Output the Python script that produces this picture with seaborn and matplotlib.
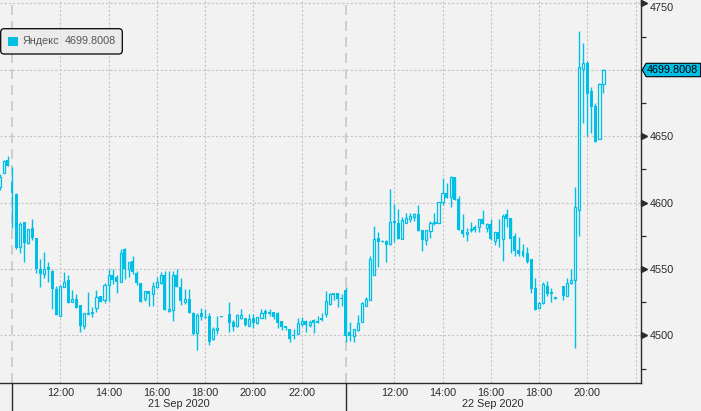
import numpy as np
import pandas as pd
import matplotlib
matplotlib.use("Agg")
import matplotlib.pyplot as plt
import matplotlib.transforms as mtransforms
from matplotlib.patches import FancyBboxPatch, Rectangle, Polygon
import seaborn as sns


# ==========================================================
# DATA  (10-minute bars, Yandex on MOEX)
# ==========================================================

ticker = "Яндекс"
last_price = 4699.8008

# 21 Sep 2020 (first three bars are the tail before the 10:00 open)
day1_open = [4611.9, 4622.5, 4632.0, 4615.7, 4606.4, 4566.7, 4585.3, 4569.3, 4580.8, 4573.3,
             4549.9, 4546.4, 4551.4, 4548.4, 4535.1, 4514.8, 4536.6, 4541.7, 4525.3, 4527.3,
             4522.8, 4507.3, 4516.3, 4517.6, 4520.3, 4529.6, 4526.3, 4537.6, 4545.4, 4543.7,
             4540.4, 4564.7, 4549.7, 4556.0, 4546.7, 4539.4, 4527.6, 4533.1, 4531.1, 4536.1,
             4539.1, 4545.4, 4518.6, 4518.8, 4545.4, 4536.4, 4525.3, 4527.3, 4516.8, 4502.0,
             4516.6, 4513.8, 4514.5, 4497.0, 4504.3, 4514.5, np.nan, 4516.0, 4510.2, 4507.2,
             4512.7, 4512.7, 4507.2, 4512.7, 4509.5, 4513.2, 4518.3, 4517.8, 4517.8, 4516.8,
             4510.7, 4507.0, 4504.7, 4500.0, 4501.2, 4508.7, 4511.0, 4508.0, 4511.7, 4511.0,
             4513.0, 4516.3, 4523.8, 4531.8, 4531.8, 4528.1]
day1_high = [4621.5, 4632.0, 4635.0, 4627.0, 4606.9, 4585.3, 4585.3, 4580.1, 4587.6, 4573.3,
             4557.5, 4562.7, 4555.2, 4549.2, 4537.1, 4536.9, 4547.7, 4545.2, 4534.1, 4531.1,
             4522.8, 4516.8, 4532.6, 4521.3, 4534.1, 4529.6, 4539.1, 4549.7, 4549.7, 4545.2,
             4565.0, 4565.5, 4555.2, 4559.7, 4548.7, 4539.4, 4533.1, 4533.1, 4540.4, 4544.2,
             4547.9, 4548.4, 4548.4, 4548.7, 4549.9, 4543.2, 4534.9, 4534.9, 4517.8, 4516.8,
             4520.6, 4519.8, 4516.6, 4506.3, 4514.5, 4514.8, np.nan, 4525.1, 4511.5, 4515.8,
             4519.8, 4513.2, 4516.0, 4515.8, 4513.7, 4519.8, 4519.8, 4519.5, 4517.8, 4517.5,
             4510.7, 4507.0, 4504.7, 4505.0, 4513.0, 4514.0, 4511.5, 4511.2, 4512.2, 4514.5,
             4516.5, 4533.3, 4532.1, 4531.8, 4531.8, 4530.8]
day1_low = [4609.4, 4622.0, 4627.7, 4581.1, 4565.0, 4561.7, 4555.5, 4568.5, 4571.8, 4546.7,
            4536.6, 4542.9, 4540.4, 4519.8, 4515.6, 4514.8, 4536.6, 4524.6, 4525.3, 4520.8,
            4502.7, 4504.5, 4515.8, 4513.5, 4517.8, 4525.3, 4524.3, 4525.8, 4538.4, 4532.1,
            4540.4, 4542.7, 4544.2, 4546.2, 4537.6, 4524.8, 4526.1, 4522.3, 4522.3, 4535.6,
            4538.6, 4518.8, 4517.8, 4510.5, 4536.6, 4522.8, 4523.6, 4516.6, 4500.2, 4488.9,
            4511.3, 4512.8, 4492.7, 4496.5, 4501.0, 4513.8, np.nan, 4502.7, 4503.5, 4506.2,
            4512.2, 4507.0, 4506.7, 4505.2, 4508.5, 4512.7, 4512.2, 4514.8, 4512.2, 4505.7,
            4504.0, 4504.0, 4495.2, 4496.9, 4500.7, 4507.0, 4502.7, 4506.0, 4502.0, 4509.5,
            4511.0, 4513.8, 4522.5, 4526.3, 4521.3, 4522.0]
day1_close = [4619.0, 4631.3, 4627.7, 4607.4, 4565.5, 4583.6, 4569.8, 4580.1, 4573.0, 4549.7,
              4546.2, 4549.9, 4549.4, 4535.1, 4515.6, 4536.9, 4539.9, 4524.6, 4527.3, 4520.8,
              4507.0, 4516.8, 4517.1, 4516.3, 4528.9, 4525.3, 4537.9, 4545.4, 4541.9, 4540.4,
              4562.0, 4549.7, 4555.2, 4547.9, 4539.1, 4524.8, 4533.1, 4531.1, 4537.4, 4539.9,
              4545.4, 4518.8, 4519.8, 4545.4, 4536.6, 4525.6, 4527.3, 4517.1, 4501.2, 4515.3,
              4514.0, 4513.3, 4495.2, 4504.8, 4505.5, 4514.0, np.nan, 4509.5, 4506.0, 4515.3,
              4515.3, 4508.0, 4512.2, 4509.5, 4513.7, 4516.8, 4516.3, 4516.3, 4514.0, 4509.5,
              4506.2, 4505.2, 4497.4, 4499.7, 4509.2, 4510.7, 4508.0, 4510.2, 4509.5, 4509.5,
              4511.5, 4525.8, 4531.3, 4530.6, 4527.6, 4527.6]

# 22 Sep 2020 (from 10:00)
day2_open = [4534.1, 4502.7, 4499.7, 4504.2, 4510.2, 4522.3, 4526.8, 4545.4, 4573.0, 4571.0,
             4571.3, 4568.7, 4586.1, 4584.3, 4572.5, 4584.8, 4587.8, 4589.3, 4591.3, 4579.3,
             4571.8, 4578.8, 4584.8, 4584.8, 4600.1, 4607.4, 4604.4, 4618.9, 4602.4, 4579.3,
             4576.3, 4579.3, 4581.3, 4581.8, 4587.3, 4581.0, 4583.6, 4571.3, 4578.0, 4572.5,
             4591.3, 4588.1, 4574.8, 4564.2, 4563.7, 4562.2, 4557.4, 4535.6, 4520.8, 4524.0,
             4537.1, 4532.3, 4528.1, np.nan, 4537.1, 4529.8, 4539.1, 4541.6, 4594.3, 4700.3,
             4705.3, 4684.2, 4672.7, 4647.6, 4689.0]
day2_high = [4536.3, 4510.2, 4504.7, 4515.3, 4525.3, 4529.1, 4559.9, 4582.3, 4578.0, 4571.5,
             4571.8, 4609.9, 4598.9, 4594.9, 4588.8, 4591.8, 4592.3, 4592.3, 4598.1, 4579.3,
             4579.3, 4586.1, 4592.3, 4600.6, 4618.7, 4614.9, 4620.0, 4618.9, 4604.9, 4591.3,
             4581.0, 4585.0, 4582.8, 4587.3, 4594.3, 4584.3, 4587.3, 4578.0, 4587.3, 4591.3,
             4594.8, 4588.1, 4576.8, 4574.3, 4568.5, 4566.2, 4557.4, 4543.1, 4525.3, 4539.9,
             4541.1, 4535.3, 4529.1, np.nan, 4537.1, 4543.4, 4549.9, 4611.9, 4729.4, 4719.9,
             4706.6, 4687.2, 4674.7, 4690.3, 4700.3]
day2_low = [4495.2, 4495.9, 4494.9, 4503.5, 4510.2, 4522.3, 4526.8, 4545.4, 4551.7, 4570.0,
            4555.4, 4568.0, 4570.5, 4572.5, 4572.5, 4584.3, 4585.6, 4586.1, 4578.8, 4563.7,
            4568.0, 4573.0, 4583.1, 4584.8, 4598.1, 4603.1, 4596.9, 4601.9, 4579.3, 4573.8,
            4571.3, 4578.0, 4577.8, 4578.0, 4583.6, 4578.0, 4571.8, 4568.0, 4566.7, 4555.9,
            4581.3, 4562.2, 4560.0, 4560.0, 4559.2, 4554.2, 4532.1, 4519.3, 4520.3, 4523.3,
            4529.8, 4525.3, 4527.6, np.nan, 4526.5, 4529.8, 4538.6, 4490.2, 4574.7, 4660.1,
            4650.1, 4652.1, 4645.8, 4647.6, 4682.2]
day2_close = [4499.4, 4499.4, 4504.7, 4509.2, 4524.3, 4527.1, 4557.4, 4572.5, 4570.5, 4570.5,
              4568.0, 4585.1, 4584.8, 4572.5, 4586.8, 4588.1, 4589.8, 4591.3, 4578.8, 4571.8,
              4579.3, 4584.3, 4585.1, 4600.1, 4606.9, 4603.1, 4618.9, 4601.9, 4579.3, 4576.3,
              4578.0, 4580.0, 4579.3, 4587.3, 4583.6, 4583.6, 4572.5, 4578.0, 4572.5, 4589.8,
              4587.5, 4572.5, 4563.7, 4561.2, 4560.0, 4555.4, 4535.1, 4519.3, 4524.0, 4538.6,
              4531.1, 4531.1, 4528.6, np.nan, 4529.8, 4539.1, 4541.6, 4596.4, 4702.3, 4705.3,
              4681.7, 4672.2, 4645.8, 4689.3, 4699.8008]

hour_labels = ["12:00", "14:00", "16:00", "18:00", "20:00", "22:00"]
date_labels = ["21 Sep 2020", "22 Sep 2020"]
price_ticks = [4500, 4550, 4600, 4650, 4700, 4750]

# bar slots: slot 0 = 21 Sep 10:00, slot 83 = 22 Sep 10:00, 6 slots per hour
DAY1_FIRST = -3
DAY2_FIRST = 83
SLOTS_PER_HOUR = 6


# ==========================================================
# STYLE
# ==========================================================

CYAN = "#00bfe6"
BG = "#f2f2f2"
GRID = "#c3c3c3"
DARK = "#2b2b2b"
FS = 7.8

sns.set_style("white", rc={"axes.facecolor": BG, "figure.facecolor": BG})
plt.rcParams["font.family"] = ["Liberation Sans", "DejaVu Sans"]

df = pd.concat([
    pd.DataFrame({"slot": np.arange(DAY1_FIRST, DAY1_FIRST + len(day1_open)),
                  "open": day1_open, "high": day1_high, "low": day1_low, "close": day1_close}),
    pd.DataFrame({"slot": np.arange(DAY2_FIRST, DAY2_FIRST + len(day2_open)),
                  "open": day2_open, "high": day2_high, "low": day2_low, "close": day2_close}),
]).dropna()

df["up"] = df["close"] >= df["open"]
df["body_lo"] = df[["open", "close"]].min(axis=1)
df["body_h"] = (df["close"] - df["open"]).abs().clip(lower=0.6)

fig = plt.figure(figsize=(7.01, 4.11), dpi=100)
ax = fig.add_axes([0, 27.7 / 411, 640.5 / 701, 383.3 / 411])


# ==========================================================
# CANDLES
# ==========================================================

# wicks
ax.vlines(df["slot"], df["low"], df["high"], color=CYAN, lw=1.0, zorder=2)

# down bars filled, up bars hollow
dn = df[~df["up"]]
up = df[df["up"]]
ax.bar(dn["slot"], dn["body_h"], bottom=dn["body_lo"], width=0.74,
       color=CYAN, linewidth=0, zorder=3)
ax.bar(up["slot"], up["body_h"], bottom=up["body_lo"], width=0.52,
       facecolor=BG, edgecolor=CYAN, linewidth=0.9, zorder=3)

ax.set_xlim(-2.98, 156.2)
ax.set_ylim(4463.9, 4752.5)


# ==========================================================
# AXES
# ==========================================================

# x axis: labels every 2 hours, small ticks on odd hours
even_hours = [SLOTS_PER_HOUR * h for h in (2, 4, 6, 8, 10, 12)]
major_x = even_hours + [DAY2_FIRST + s for s in even_hours]
ax.set_xticks(major_x)
ax.set_xticklabels(hour_labels + hour_labels[:-1] + [""])
odd_hours = [SLOTS_PER_HOUR * h for h in (1, 3, 5, 7, 9, 11, 13)]
minor_x = odd_hours + [DAY2_FIRST + s for s in odd_hours[:-1]] + [DAY2_FIRST + 71.95]
ax.set_xticks(minor_x, minor=True)
ax.tick_params(axis="x", which="major", length=0, pad=3.2, labelsize=FS, labelcolor=DARK)
ax.tick_params(axis="x", which="minor", length=3, width=0.9, color=DARK)

# y axis on the right; 4700 sits under the price tag, 4750 is nudged down
ax.yaxis.tick_right()
ax.set_yticks(price_ticks)
ax.set_yticklabels([str(p) if p not in (4700, 4750) else "" for p in price_ticks])
ax.set_yticks(np.arange(4475, 4751, 50), minor=True)
ax.tick_params(axis="y", which="major", length=0, pad=7, labelsize=FS, labelcolor=DARK)
ax.tick_params(axis="y", which="minor", length=3.5, width=0.9, color=DARK)

ax.grid(True, which="major", color=GRID, lw=0.8, linestyle=(0, (1.9, 1.9)))

for side in ("left", "top"):
    ax.spines[side].set_visible(False)
for side in ("right", "bottom"):
    ax.spines[side].set_color(DARK)
    ax.spines[side].set_linewidth(1.0)

blend_x = mtransforms.blended_transform_factory(ax.transData, ax.transAxes)
blend_y = mtransforms.blended_transform_factory(ax.transAxes, ax.transData)

# triangle markers at the visible price ticks
tri = [p for p in price_ticks if p != 4700]
ax.plot(np.full(len(tri), 1.0062), tri, ls="none", marker=">", ms=5, color=DARK,
        transform=blend_y, clip_on=False, zorder=5)
ax.text(1.0148, 4750, "4750", transform=blend_y, ha="left", va="top",
        fontsize=FS, color=DARK, clip_on=False)

# day separators
for s in (0, DAY2_FIRST):
    ax.axvline(s, color="#c6c6c6", lw=1.2, linestyle=(0, (6, 3.6)), zorder=1)
    ax.plot([s, s], [0, -0.08], color=DARK, lw=1.0, transform=blend_x, clip_on=False)

# date labels centred under each session
for mid, lab in zip([(0 + DAY2_FIRST) / 2, (DAY2_FIRST + DAY2_FIRST + 73) / 2], date_labels):
    ax.text(mid, -0.0548, lab, transform=blend_x, ha="center", va="center",
            fontsize=FS, color=DARK, clip_on=False)

# last price tag
half = 5.05
tag = Polygon([(1.0028, last_price), (1.0088, last_price + half), (1.094, last_price + half),
               (1.094, last_price - half), (1.0088, last_price - half)],
              closed=True, facecolor=CYAN, edgecolor="black", lw=0.8,
              transform=blend_y, clip_on=False, zorder=6)
ax.add_patch(tag)
ax.text(1.0505, last_price, f"{last_price:.4f}", transform=blend_y, ha="center",
        va="center", fontsize=FS, color="black", clip_on=False, zorder=7)

# legend box (pixel coordinates, origin bottom-left)
pix = mtransforms.IdentityTransform()
fig.add_artist(FancyBboxPatch((0.7, 357.0), 121.6, 25.3,
                              boxstyle="round,pad=0,rounding_size=3.5",
                              facecolor="#ebebeb", edgecolor="black", lw=0.9,
                              transform=pix, zorder=10))
fig.add_artist(Rectangle((8.3, 365.3), 9.4, 9.0, facecolor=CYAN, edgecolor="none",
                         transform=pix, zorder=11))
fig.text(23, 369.6, ticker, transform=pix, fontsize=FS, color="#555555",
         va="center", ha="left", zorder=12)
fig.text(65, 369.6, f"{last_price:.4f}", transform=pix, fontsize=FS, color="#555555",
         va="center", ha="left", zorder=12)

fig.savefig("out.png", dpi=100, facecolor=BG)
plt.close(fig)
